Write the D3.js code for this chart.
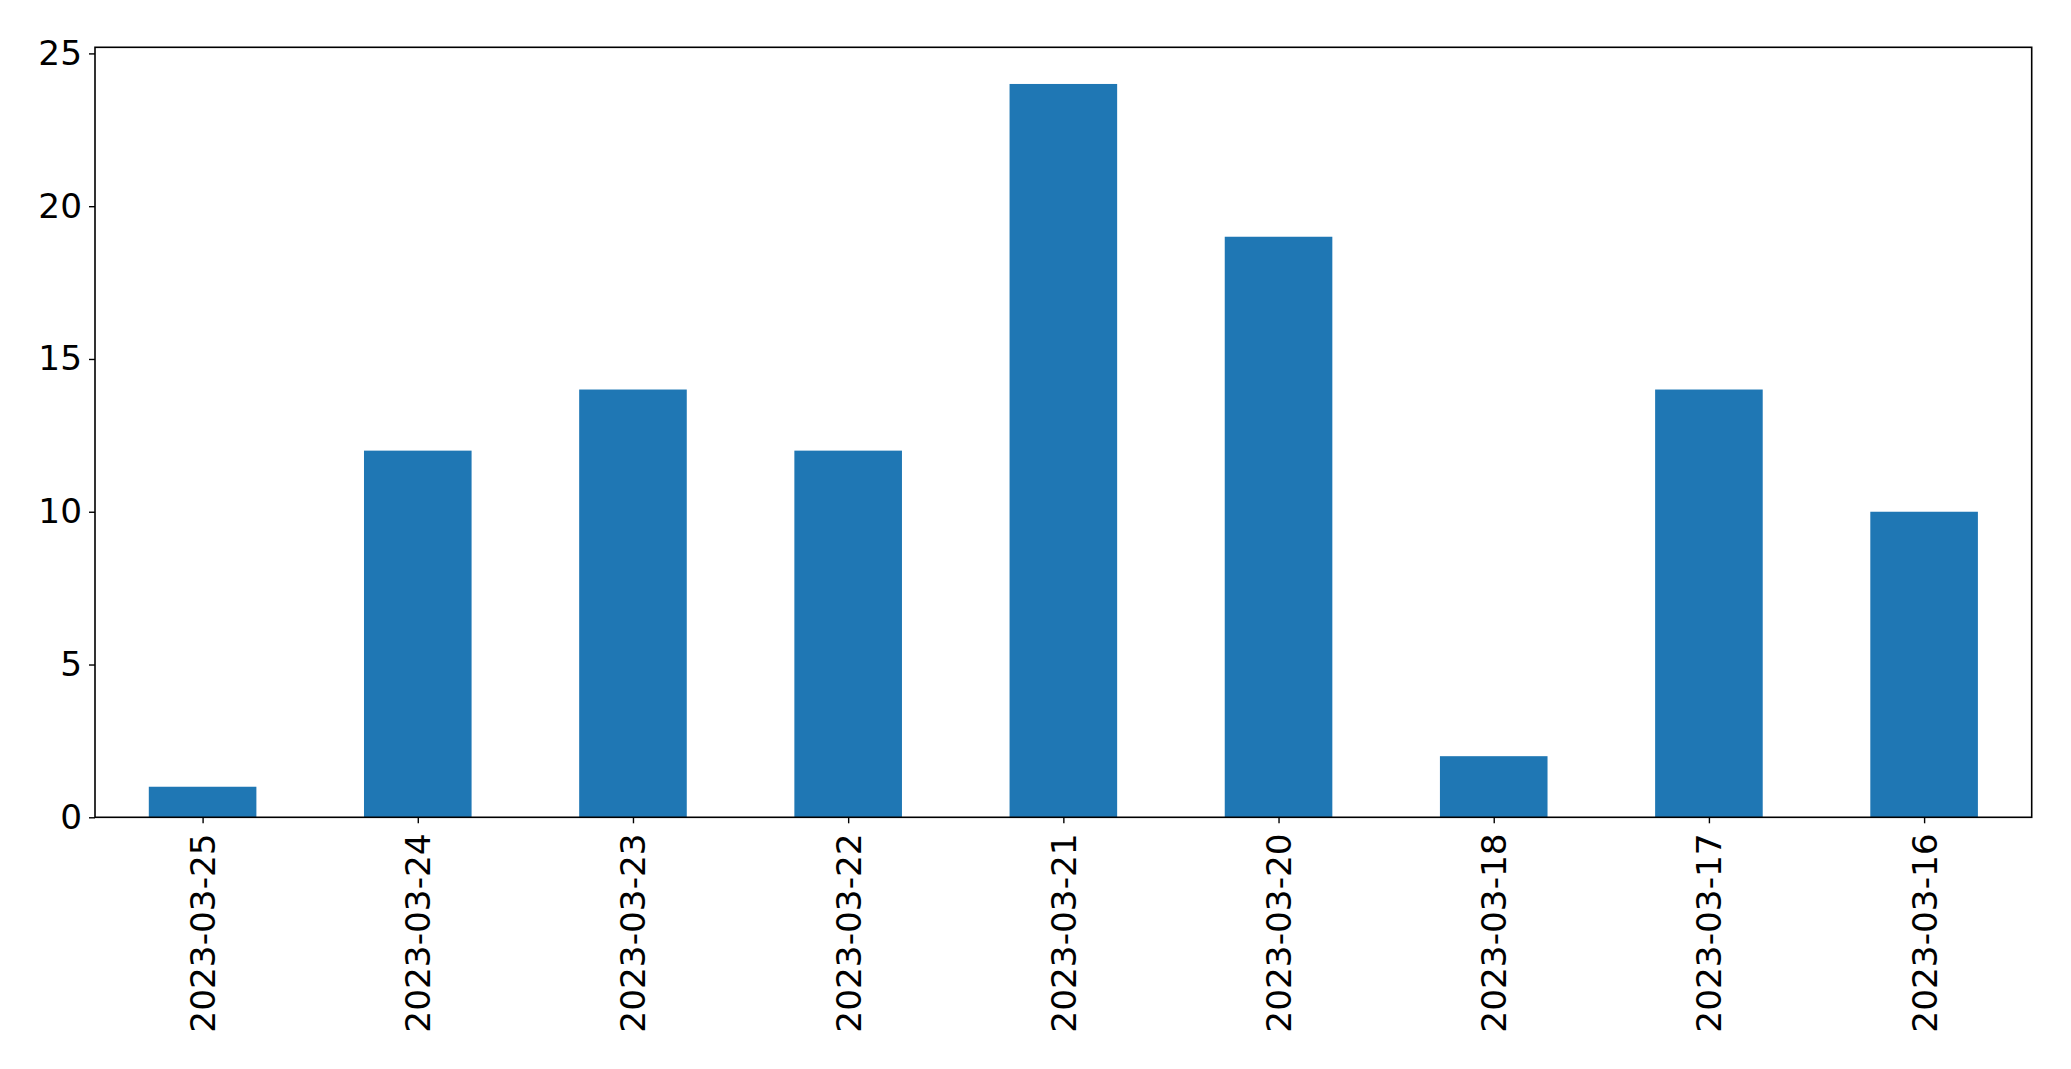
<!DOCTYPE html>
<html><head><meta charset="utf-8">
<script src="https://cdn.jsdelivr.net/npm/d3@7"></script>
<style>html,body{margin:0;padding:0;background:#fff;overflow:hidden}</style>
</head><body>
<svg id="c" width="2071" height="1069"></svg>
<script>
const categories = ["2023-03-25","2023-03-24","2023-03-23","2023-03-22","2023-03-21","2023-03-20","2023-03-18","2023-03-17","2023-03-16"];
const values = [1, 12, 14, 12, 24, 19, 2, 14, 10];
const yTicks = [0, 5, 10, 15, 20, 25];

const W = 2071, H = 1069;
const m = {left: 95, top: 47.3, right: 2031.7, bottom: 817.3};
const svg = d3.select("#c");
const font = "'DejaVu Sans', sans-serif";
const fs = 34.3;

const x = d3.scaleLinear().domain([-0.5, categories.length - 0.5]).range([m.left, m.right]);
const y = d3.scaleLinear().domain([0, 25.2]).range([m.bottom, m.top]);

svg.append("g").selectAll("rect").data(values).join("rect")
  .attr("x", (d,i) => x(i - 0.25))
  .attr("width", (d,i) => x(i + 0.25) - x(i - 0.25))
  .attr("y", d => y(d))
  .attr("height", d => y(0) - y(d))
  .attr("fill", "#1f77b4");

// y axis
const yAxis = d3.axisLeft(y).tickValues(yTicks).tickSize(6).tickPadding(7).tickFormat(d3.format("d"));
const gy = svg.append("g").attr("transform", `translate(${m.left},0)`).call(yAxis);
gy.select(".domain").remove();
gy.selectAll("line").attr("stroke", "#000").attr("stroke-width", 1.4);
gy.selectAll("text").attr("font-family", font).attr("font-size", fs).attr("fill", "#000");

// x axis
const xAxis = d3.axisBottom(x).tickValues(d3.range(categories.length)).tickSize(6).tickPadding(0).tickFormat(i => categories[i]);
const gx = svg.append("g").attr("transform", `translate(0,${m.bottom})`).call(xAxis);
gx.select(".domain").remove();
gx.selectAll("line").attr("stroke", "#000").attr("stroke-width", 1.4);
gx.selectAll("text")
  .attr("font-family", font).attr("font-size", fs).attr("fill", "#000")
  .attr("transform", "rotate(-90)")
  .attr("text-anchor", "end")
  .attr("x", -16).attr("y", 0).attr("dy", "0.35em");

// frame
svg.append("rect").attr("x", m.left).attr("y", m.top)
  .attr("width", m.right - m.left).attr("height", m.bottom - m.top)
  .attr("fill", "none").attr("stroke", "#000").attr("stroke-width", 1.6);
</script>
</body></html>
